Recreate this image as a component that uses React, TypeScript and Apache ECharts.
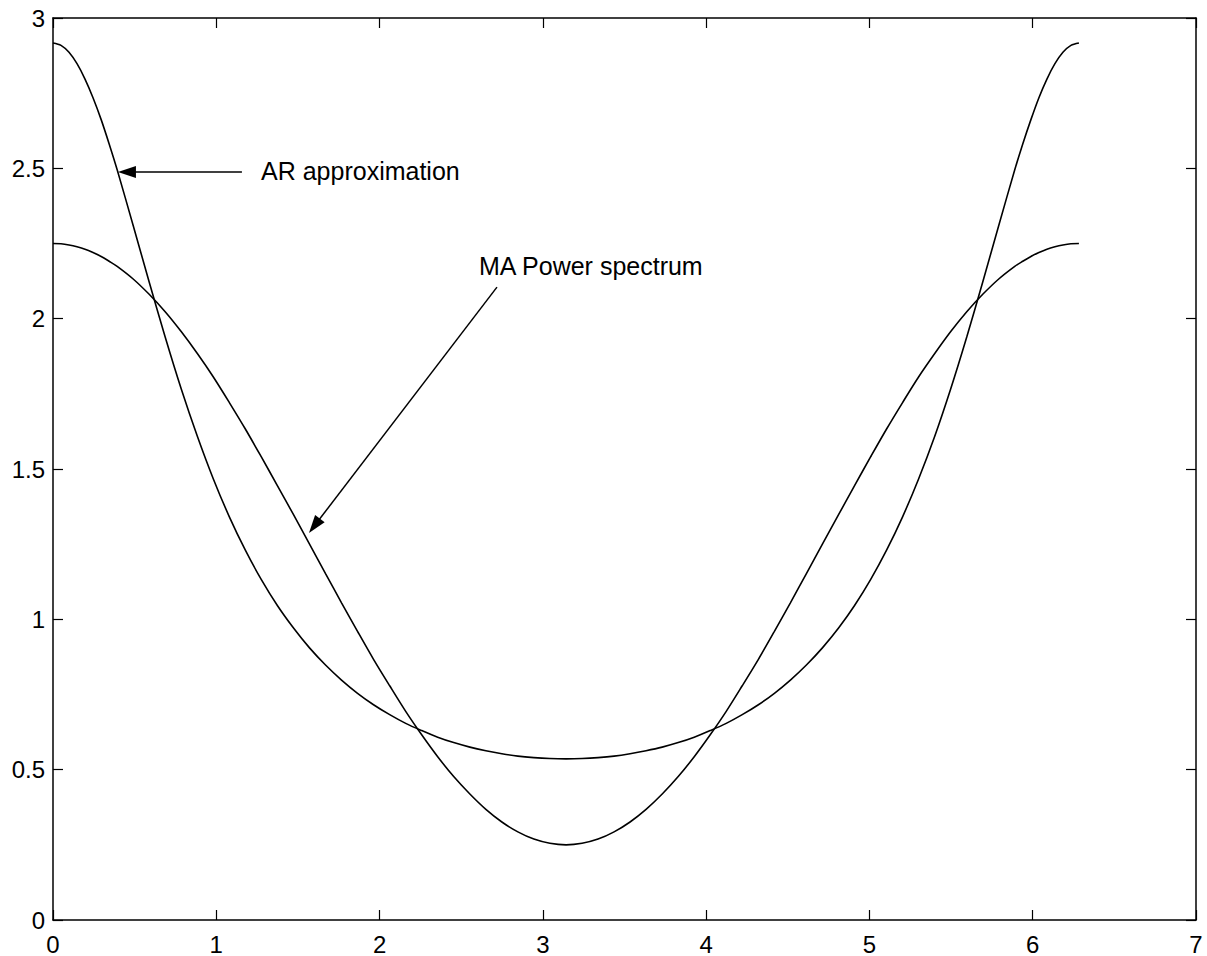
import React, { useEffect, useRef } from "react";
import * as echarts from "echarts";

const freq = [0, 0.049, 0.098, 0.147, 0.196, 0.245, 0.295, 0.344, 0.393, 0.491, 0.589, 0.687, 0.785, 0.884, 0.982, 1.08, 1.178, 1.276, 1.374, 1.473, 1.571, 1.669, 1.767, 1.865, 1.963, 2.062, 2.16, 2.258, 2.356, 2.454, 2.553, 2.651, 2.749, 2.847, 2.945, 3.043, 3.142, 3.24, 3.338, 3.436, 3.534, 3.632, 3.731, 3.829, 3.927, 4.025, 4.123, 4.221, 4.32, 4.418, 4.516, 4.614, 4.712, 4.811, 4.909, 5.007, 5.105, 5.203, 5.301, 5.4, 5.498, 5.596, 5.694, 5.792, 5.89, 5.939, 5.989, 6.038, 6.087, 6.136, 6.185, 6.234, 6.283];
const maSpectrum = [2.25, 2.249, 2.245, 2.239, 2.231, 2.22, 2.207, 2.191, 2.174, 2.132, 2.081, 2.023, 1.957, 1.884, 1.806, 1.721, 1.633, 1.54, 1.445, 1.348, 1.25, 1.152, 1.055, 0.96, 0.867, 0.779, 0.694, 0.616, 0.543, 0.477, 0.419, 0.368, 0.326, 0.293, 0.269, 0.255, 0.25, 0.255, 0.269, 0.293, 0.326, 0.368, 0.419, 0.477, 0.543, 0.616, 0.694, 0.779, 0.867, 0.96, 1.055, 1.152, 1.25, 1.348, 1.445, 1.54, 1.633, 1.721, 1.806, 1.884, 1.957, 2.023, 2.081, 2.132, 2.174, 2.191, 2.207, 2.22, 2.231, 2.239, 2.245, 2.249, 2.25];
const arApprox = [2.917, 2.909, 2.886, 2.848, 2.797, 2.735, 2.662, 2.581, 2.495, 2.31, 2.122, 1.939, 1.767, 1.609, 1.467, 1.341, 1.23, 1.132, 1.046, 0.971, 0.905, 0.848, 0.798, 0.754, 0.716, 0.683, 0.654, 0.63, 0.608, 0.59, 0.575, 0.563, 0.553, 0.545, 0.54, 0.537, 0.536, 0.537, 0.54, 0.545, 0.553, 0.563, 0.575, 0.59, 0.608, 0.63, 0.654, 0.683, 0.716, 0.754, 0.798, 0.848, 0.905, 0.971, 1.046, 1.132, 1.23, 1.341, 1.467, 1.609, 1.767, 1.939, 2.122, 2.31, 2.495, 2.581, 2.662, 2.735, 2.797, 2.848, 2.886, 2.909, 2.917];

const annotations = [
  { text: "AR approximation", at: [1.274, 2.49], from: [1.157, 2.488], to: [0.453, 2.488] },
  { text: "MA Power spectrum", at: [2.609, 2.175], from: [2.719, 2.105], to: [1.601, 1.311] },
];

const FONT = "Liberation Sans";

export default function App() {
  const ref = useRef<HTMLDivElement>(null);
  useEffect(() => {
    if (!ref.current) return;
    const chart = echarts.init(ref.current, undefined, { renderer: "svg" });
    const axisLine = { show: true, onZero: false, lineStyle: { color: "#000", width: 1.5 } };
    const tick = { show: true, inside: true, length: 10, lineStyle: { color: "#000", width: 1.2 } };
    const label = { color: "#000", fontSize: 24, fontFamily: FONT };
    chart.setOption({
      animation: false,
      backgroundColor: "#fff",
      grid: { left: 53, top: 18, right: 11, bottom: 36, containLabel: false },
      xAxis: [
        { type: "value", min: 0, max: 7, interval: 1, position: "bottom", axisLine, axisTick: tick, axisLabel: { ...label, margin: 12 }, splitLine: { show: false } },
        { type: "value", min: 0, max: 7, interval: 1, position: "top", axisLine, axisTick: tick, axisLabel: { show: false }, splitLine: { show: false } },
      ],
      yAxis: [
        { type: "value", min: 0, max: 3, interval: 0.5, position: "left", axisLine, axisTick: tick, axisLabel: { ...label, margin: 8 }, splitLine: { show: false } },
        { type: "value", min: 0, max: 3, interval: 0.5, position: "right", axisLine, axisTick: tick, axisLabel: { show: false }, splitLine: { show: false } },
      ],
      series: [
        {
          name: "MA Power spectrum",
          type: "line",
          data: freq.map((x, i) => [x, maSpectrum[i]]),
          smooth: 0.3,
          showSymbol: false,
          lineStyle: { color: "#000", width: 1.6 },
          markLine: {
            silent: true,
            symbol: ["none", "triangle"],
            symbolSize: [12, 18],
            lineStyle: { color: "#000", type: "solid", width: 1.5 },
            itemStyle: { color: "#000" },
            label: { show: false },
            data: annotations.map((a) => [{ coord: a.from }, { coord: a.to }]),
          },
          markPoint: {
            silent: true,
            symbol: "circle",
            symbolSize: 0,
            data: annotations.map((a) => ({
              coord: a.at,
              label: { show: true, formatter: a.text, position: "right", distance: 0, color: "#000", fontSize: 25, fontFamily: FONT },
            })),
          },
        },
        {
          name: "AR approximation",
          type: "line",
          data: freq.map((x, i) => [x, arApprox[i]]),
          smooth: 0.3,
          showSymbol: false,
          lineStyle: { color: "#000", width: 1.6 },
        },
      ],
    });
    return () => chart.dispose();
  }, []);
  return <div ref={ref} style={{ position: "fixed", left: 0, top: 0, width: 1207, height: 956, background: "#fff" }} />;
}
